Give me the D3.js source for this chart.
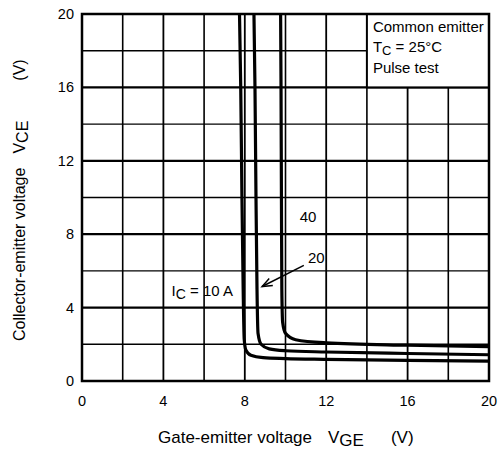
<!DOCTYPE html>
<html>
<head>
<meta charset="utf-8">
<script src="https://cdn.jsdelivr.net/npm/d3@7"></script>
<style>
  body { margin: 0; background: #fff; }
  text { font-family: "Liberation Sans", Arial, sans-serif; fill: #000; }
</style>
</head>
<body>
<div id="chart"></div>
<script>
// tick values for both axes
let xTicks = [0, 4, 8, 12, 16, 20];
let yTicks = [0, 4, 8, 12, 16, 20];
let gridMinor = [2, 6, 10, 14, 18];

// IC = 10 A
let vge10 = [7.74, 7.8, 7.86, 7.92, 7.97, 8.05, 8.3, 8.9, 10, 12, 16, 20];
let vce10 = [20, 16, 10, 5, 2.3, 1.7, 1.4, 1.27, 1.22, 1.18, 1.12, 1.08];
// IC = 20 A
let vge20 = [8.45, 8.5, 8.55, 8.6, 8.65, 8.8, 9.2, 10, 12, 16, 20];
let vce20 = [20, 16, 10, 5, 2.6, 2.0, 1.75, 1.65, 1.58, 1.5, 1.43];
// IC = 40 A
let vge40 = [9.76, 9.78, 9.8, 9.82, 9.86, 10.0, 10.5, 12, 16, 20];
let vce40 = [20, 16, 10, 5, 3.2, 2.6, 2.25, 2.08, 1.95, 1.87];

let series = [
  { x: vge10, y: vce10 },
  { x: vge20, y: vce20 },
  { x: vge40, y: vce40 }
];

let margin = { top: 14, left: 82 };
let width = 407, height = 367;

let svg = d3.select('#chart').append('svg')
  .attr('width', 499)
  .attr('height', 450);

let g = svg.append('g')
  .attr('transform', 'translate(' + margin.left + ',' + margin.top + ')');

let x = d3.scaleLinear().domain([0, 20]).range([0, width]);
let y = d3.scaleLinear().domain([0, 20]).range([height, 0]);

// grid
gridMinor.forEach(function(v) {
  g.append('line').attr('x1', x(v)).attr('x2', x(v)).attr('y1', 0).attr('y2', height)
    .attr('stroke', '#000').attr('stroke-width', 1.6);
  g.append('line').attr('x1', 0).attr('x2', width).attr('y1', y(v)).attr('y2', y(v))
    .attr('stroke', '#000').attr('stroke-width', 1.4);
});
xTicks.slice(1, -1).forEach(function(v) {
  g.append('line').attr('x1', x(v)).attr('x2', x(v)).attr('y1', 0).attr('y2', height)
    .attr('stroke', '#000').attr('stroke-width', 1.8);
});
yTicks.slice(1, -1).forEach(function(v) {
  g.append('line').attr('x1', 0).attr('x2', width).attr('y1', y(v)).attr('y2', y(v))
    .attr('stroke', '#000').attr('stroke-width', 2.2);
});

// legend box covers the grid
g.append('rect')
  .attr('x', x(14)).attr('y', y(20))
  .attr('width', x(20) - x(14)).attr('height', y(16) - y(20))
  .attr('fill', '#fff').attr('stroke', '#000').attr('stroke-width', 2);

// frame
g.append('rect')
  .attr('width', width).attr('height', height)
  .attr('fill', 'none').attr('stroke', '#000').attr('stroke-width', 2.5);

// curves
let line = d3.line()
  .x(function(d) { return x(d[0]); })
  .y(function(d) { return y(d[1]); })
  .curve(d3.curveMonotoneX);

g.append('clipPath').attr('id', 'clip')
  .append('rect').attr('width', width).attr('height', height);

series.forEach(function(s) {
  g.append('path')
    .datum(d3.zip(s.x, s.y))
    .attr('d', line)
    .attr('clip-path', 'url(#clip)')
    .attr('fill', 'none')
    .attr('stroke', '#000')
    .attr('stroke-width', 3.2);
});

// tick labels
xTicks.forEach(function(v) {
  g.append('text').attr('x', x(v)).attr('y', height + 25)
    .attr('text-anchor', 'middle').style('font-size', '14.5px').text(v);
});
yTicks.forEach(function(v) {
  g.append('text').attr('x', -8).attr('y', y(v) + 5)
    .attr('text-anchor', 'end').style('font-size', '14.5px').text(v);
});

// legend text
let lx = x(14) + 6;
g.append('text').attr('x', lx).attr('y', 18).style('font-size', '15px').text('Common emitter');
let tc = g.append('text').attr('x', lx).attr('y', 38).style('font-size', '15px');
tc.append('tspan').text('T');
tc.append('tspan').attr('dy', 3).style('font-size', '13px').text('C');
tc.append('tspan').attr('dy', -3).text(' = 25°C');
g.append('text').attr('x', lx).attr('y', 59).style('font-size', '15px').text('Pulse test');

// annotations
g.append('text').attr('x', x(10.7)).attr('y', y(8.65)).style('font-size', '15px').text('40');
g.append('text').attr('x', x(11.1)).attr('y', y(6.45)).style('font-size', '15px').text('20');
let ic = g.append('text').attr('x', x(4.4)).attr('y', y(4.65)).style('font-size', '15px');
ic.append('tspan').text('I');
ic.append('tspan').attr('dy', 3).style('font-size', '14px').text('C');
ic.append('tspan').attr('dy', -3).text(' = 10 A');

// arrow for 20 A label
let ax1 = x(10.9), ay1 = y(6.3), ax2 = x(8.85), ay2 = y(5.15);
g.append('line').attr('x1', ax1).attr('y1', ay1).attr('x2', ax2).attr('y2', ay2)
  .attr('stroke', '#000').attr('stroke-width', 1.5);
let ang = Math.atan2(ay2 - ay1, ax2 - ax1);
let hl = 10, hw = 4;
let p1 = [ax2 - hl * Math.cos(ang) + hw * Math.sin(ang), ay2 - hl * Math.sin(ang) - hw * Math.cos(ang)];
let p2 = [ax2 - hl * Math.cos(ang) - hw * Math.sin(ang), ay2 - hl * Math.sin(ang) + hw * Math.cos(ang)];
g.append('path')
  .attr('d', 'M' + p1 + 'L' + [ax2, ay2] + 'L' + p2)
  .attr('fill', 'none').attr('stroke', '#000').attr('stroke-width', 1.5);

// axis titles
let xt = svg.append('text').attr('x', 158).attr('y', 443).style('font-size', '17px');
xt.append('tspan').text('Gate-emitter voltage');
xt.append('tspan').attr('dx', 16).text('V');
xt.append('tspan').attr('dy', 3).text('GE');
xt.append('tspan').attr('dy', -3).attr('dx', 27).text('(V)');

let yt = svg.append('text').attr('transform', 'translate(25,341) rotate(-90)').style('font-size', '16px');
yt.append('tspan').text('Collector-emitter voltage');
yt.append('tspan').attr('dx', 14).text('V');
yt.append('tspan').attr('dy', 3).text('CE');
yt.append('tspan').attr('dy', -3).attr('dx', 40).text('(V)');
</script>
</body>
</html>
